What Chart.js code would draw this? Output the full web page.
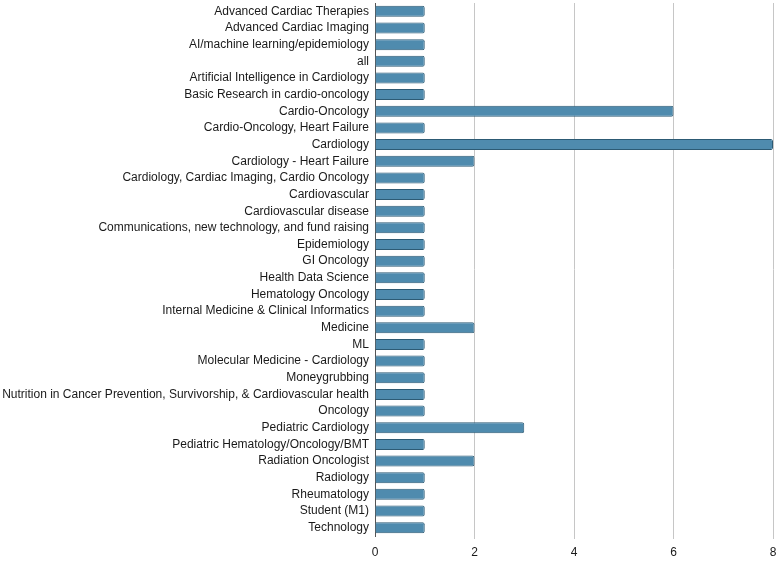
<!DOCTYPE html>
<html>
<head>
<meta charset="utf-8">
<script src="https://cdn.jsdelivr.net/npm/chart.js@4/dist/chart.umd.min.js"></script>
<style>
  html, body { margin: 0; padding: 0; background: #fff; }
  #wrap { width: 778px; height: 563px; }
</style>
</head>
<body>
<div id="wrap"><canvas id="chart"></canvas></div>
<script>
const categories = [
  'Advanced Cardiac Therapies',
  'Advanced Cardiac Imaging',
  'AI/machine learning/epidemiology',
  'all',
  'Artificial Intelligence in Cardiology',
  'Basic Research in cardio-oncology',
  'Cardio-Oncology',
  'Cardio-Oncology, Heart Failure',
  'Cardiology',
  'Cardiology - Heart Failure',
  'Cardiology, Cardiac Imaging, Cardio Oncology',
  'Cardiovascular',
  'Cardiovascular disease',
  'Communications, new technology, and fund raising',
  'Epidemiology',
  'GI Oncology',
  'Health Data Science',
  'Hematology Oncology',
  'Internal Medicine & Clinical Informatics',
  'Medicine',
  'ML',
  'Molecular Medicine - Cardiology',
  'Moneygrubbing',
  'Nutrition in Cancer Prevention, Survivorship, & Cardiovascular health',
  'Oncology',
  'Pediatric Cardiology',
  'Pediatric Hematology/Oncology/BMT',
  'Radiation Oncologist',
  'Radiology',
  'Rheumatology',
  'Student (M1)',
  'Technology'
];
const counts = [1, 1, 1, 1, 1, 1, 6, 1, 8, 2, 1, 1, 1, 1, 1, 1, 1, 1, 1, 2, 1, 1, 1, 1, 1, 3, 1, 2, 1, 1, 1, 1];
const xTicks = [0, 2, 4, 6, 8];

Chart.defaults.font.family = '"Liberation Sans", Arial, sans-serif';
Chart.defaults.font.size = 12;
Chart.defaults.color = '#1a1a1a';

new Chart(document.getElementById('chart'), {
  type: 'bar',
  data: {
    labels: categories,
    datasets: [{
      data: counts,
      backgroundColor: '#4f8bae',
      borderColor: '#2c5a74',
      borderWidth: 1,
      borderRadius: 2,
      borderSkipped: 'start',
      barPercentage: 0.75,
      categoryPercentage: 0.88
    }]
  },
  options: {
    indexAxis: 'y',
    responsive: true,
    maintainAspectRatio: false,
    animation: false,
    layout: { padding: { top: 3, right: 5, left: 0, bottom: 0 } },
    plugins: { legend: { display: false }, tooltip: { enabled: false } },
    scales: {
      x: {
        min: 0,
        max: 8,
        afterBuildTicks: s => { s.ticks = xTicks.map(v => ({ value: v })); },
        afterFit: s => { s.height = 27; s.paddingLeft = 0; s.paddingRight = 0; },
        border: { display: false },
        grid: {
          color: c => c.tick && c.tick.value === 0 ? 'rgba(0,0,0,0)' : '#c6c6c6',
          lineWidth: 1,
          tickLength: 3
        },
        ticks: { padding: 6 }
      },
      y: {
        afterFit: s => { s.width = 375; s.paddingTop = 0; s.paddingBottom = 0; },
        border: { display: true, color: '#555', width: 1 },
        grid: { display: false, drawTicks: false, tickLength: 0 },
        ticks: { autoSkip: false, padding: 6 }
      }
    }
  }
});
</script>
</body>
</html>
